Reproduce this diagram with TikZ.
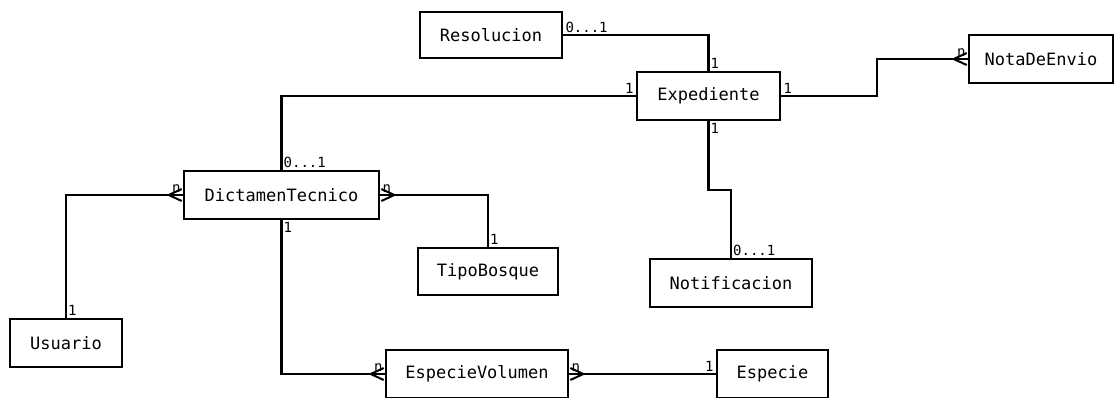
\documentclass[tikz,border=0pt]{standalone}
\usepackage{fontspec}
\setmonofont{DejaVu Sans Mono}
\usetikzlibrary{arrows.meta,positioning}
\begin{document}
\begin{tikzpicture}[
	x=1pt, y=-1pt,
	entity/.style={draw, line width=2.6pt, minimum height=48pt, inner sep=0pt,
		font=\ttfamily\fontsize{17}{20}\selectfont},
	link/.style={line width=2.3pt},
	card/.style={inner sep=2pt, font=\ttfamily\fontsize{14}{16}\selectfont},
	crow/.tip={Straight Barb[reversed, length=13pt, width=12pt, line width=2pt]},
	many end/.style={-crow, postaction={draw, -}},
	many start/.style={crow-, postaction={draw, -}}]
	\clip (0,0) rectangle (1115,397);
	\node[entity, minimum width=142pt, minimum height=46pt] (res) at (491,35) {Resolucion};
	\node[entity, minimum width=143pt] (exp) at (708.5,96) {Expediente};
	\node[entity, minimum width=144pt] (nota) at (1041,59) {NotaDeEnvio};
	\node[entity, minimum width=195pt] (dt) at (281.5,195) {DictamenTecnico};
	\node[entity, minimum width=140pt, minimum height=47pt] (tipo) at (488,271.5) {TipoBosque};
	\node[entity, minimum width=162pt] (notif) at (731,283) {Notificacion};
	\node[entity, minimum width=112pt] (usr) at (66,343) {Usuario};
	\node[entity, minimum width=182pt] (ev) at (477,374) {EspecieVolumen};
	\node[entity, minimum width=111pt] (esp) at (772.5,374) {Especie};
	\draw[link] (res.east) -| (exp.north);
	\draw[link] (exp.west) -| (dt.north);
	\draw[link, many end] (exp.east) -- ++(96,0) |- (nota.west);
	\draw[link] (exp.south) -- ++(0,69) -| (notif.north);
	\draw[link, many end] (usr.north) |- (dt.west);
	\draw[link, many start] (dt.east) -| (tipo.north);
	\draw[link, many end] (dt.south) |- (ev.west);
	\draw[link, many start] (ev.east) -- (esp.west);
	\node[card, above right] at (res.east) {0...1};
	\node[card, above right] at (exp.north) {1};
	\node[card, above left] at (exp.west) {1};
	\node[card, above right] at (exp.east) {1};
	\node[card, below right] at (exp.south) {1};
	\node[card, above left] at (nota.west) {n};
	\node[card, above right] at (dt.north) {0...1};
	\node[card, above left] at (dt.west) {n};
	\node[card, above right] at (dt.east) {n};
	\node[card, below right] at (dt.south) {1};
	\node[card, above right] at (tipo.north) {1};
	\node[card, above right] at (notif.north) {0...1};
	\node[card, above right] at (usr.north) {1};
	\node[card, above left] at (ev.west) {n};
	\node[card, above right] at (ev.east) {n};
	\node[card, above left] at (esp.west) {1};
\end{tikzpicture}
\end{document}
